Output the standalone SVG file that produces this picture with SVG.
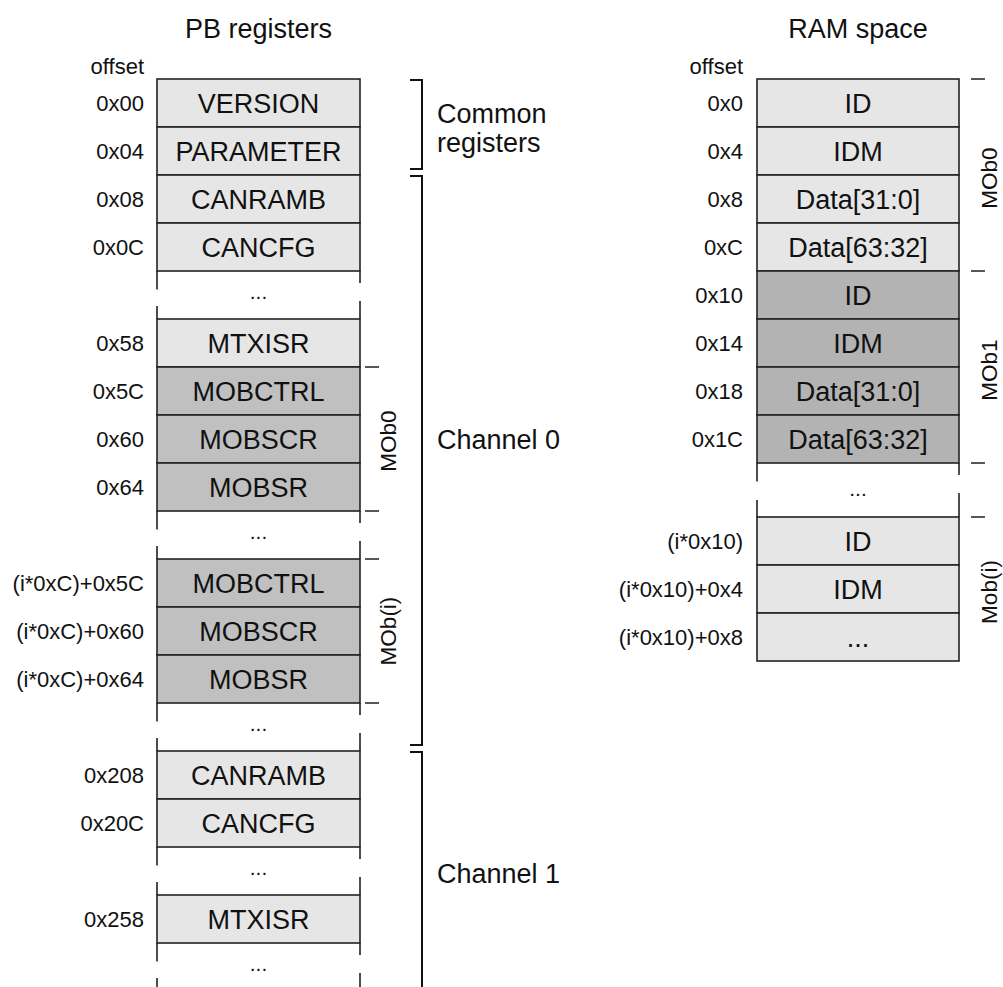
<svg xmlns="http://www.w3.org/2000/svg" width="1003" height="987" viewBox="0 0 1003 987">
<style>
text{font-family:"Liberation Sans",Arial,sans-serif;fill:#111}
.t{font-size:27px;text-anchor:middle}
.l{font-size:22px;text-anchor:end}
.m{font-size:22.5px;text-anchor:middle}
.d{font-size:21px;text-anchor:middle}
.h{font-size:27px}
.lt{fill:#e6e6e6;stroke:#222;stroke-width:1.6}
.dk{fill:#c0c0c0;stroke:#222;stroke-width:1.6}
.md{fill:#b3b3b3;stroke:#222;stroke-width:1.6}
.sl{stroke:#222;stroke-width:1.6;fill:none}
.br{stroke:#111;stroke-width:2;fill:none}
.tk{stroke:#222;stroke-width:1.5;fill:none}
</style>
<rect width="1003" height="987" fill="#fff"/>
<text class="h" x="258.5" y="38" text-anchor="middle">PB registers</text>
<text class="h" x="858" y="38" text-anchor="middle">RAM space</text>
<text class="l" x="144" y="74">offset</text>
<text class="l" x="743" y="74">offset</text>

<g id="pb-version"><rect class="lt" x="157" y="79" width="203" height="48"/><text class="t" x="258.5" y="112.5">VERSION</text><text class="l" x="144" y="111">0x00</text></g>
<g id="pb-parameter"><rect class="lt" x="157" y="127" width="203" height="48"/><text class="t" x="258.5" y="160.5">PARAMETER</text><text class="l" x="144" y="159">0x04</text></g>
<g id="pb-canramb0"><rect class="lt" x="157" y="175" width="203" height="48"/><text class="t" x="258.5" y="208.5">CANRAMB</text><text class="l" x="144" y="207">0x08</text></g>
<g id="pb-cancfg0"><rect class="lt" x="157" y="223" width="203" height="48"/><text class="t" x="258.5" y="256.5">CANCFG</text><text class="l" x="144" y="255">0x0C</text></g>
<g id="pb-mtxisr0"><rect class="lt" x="157" y="319" width="203" height="48"/><text class="t" x="258.5" y="352.5">MTXISR</text><text class="l" x="144" y="351">0x58</text></g>
<g id="pb-mobctrl0"><rect class="dk" x="157" y="367" width="203" height="48"/><text class="t" x="258.5" y="400.5">MOBCTRL</text><text class="l" x="144" y="399">0x5C</text></g>
<g id="pb-mobscr0"><rect class="dk" x="157" y="415" width="203" height="48"/><text class="t" x="258.5" y="448.5">MOBSCR</text><text class="l" x="144" y="447">0x60</text></g>
<g id="pb-mobsr0"><rect class="dk" x="157" y="463" width="203" height="48"/><text class="t" x="258.5" y="496.5">MOBSR</text><text class="l" x="144" y="495">0x64</text></g>
<g id="pb-mobctrli"><rect class="dk" x="157" y="559" width="203" height="48"/><text class="t" x="258.5" y="592.5">MOBCTRL</text><text class="l" x="144" y="591">(i*0xC)+0x5C</text></g>
<g id="pb-mobscri"><rect class="dk" x="157" y="607" width="203" height="48"/><text class="t" x="258.5" y="640.5">MOBSCR</text><text class="l" x="144" y="639">(i*0xC)+0x60</text></g>
<g id="pb-mobsri"><rect class="dk" x="157" y="655" width="203" height="48"/><text class="t" x="258.5" y="688.5">MOBSR</text><text class="l" x="144" y="687">(i*0xC)+0x64</text></g>
<g id="pb-canramb1"><rect class="lt" x="157" y="751" width="203" height="48"/><text class="t" x="258.5" y="784.5">CANRAMB</text><text class="l" x="144" y="783">0x208</text></g>
<g id="pb-cancfg1"><rect class="lt" x="157" y="799" width="203" height="48"/><text class="t" x="258.5" y="832.5">CANCFG</text><text class="l" x="144" y="831">0x20C</text></g>
<g id="pb-mtxisr1"><rect class="lt" x="157" y="895" width="203" height="48"/><text class="t" x="258.5" y="928.5">MTXISR</text><text class="l" x="144" y="927">0x258</text></g>

<g id="pb-gaps">
<path class="sl" d="M157,271V289.5M157,306V319M360,271V283M360,301V319"/>
<path class="sl" d="M157,511V529.5M157,546V559M360,511V523M360,541V559"/>
<path class="sl" d="M157,703V721.5M157,738V751M360,703V715M360,733V751"/>
<path class="sl" d="M157,847V865.5M157,882V895M360,847V859M360,877V895"/>
<path class="sl" d="M157,943V961.5M157,978V990M360,943V955M360,973V990"/>
<text class="d" x="258.5" y="299">...</text>
<text class="d" x="258.5" y="539">...</text>
<text class="d" x="258.5" y="731">...</text>
<text class="d" x="258.5" y="875">...</text>
<text class="d" x="258.5" y="971">...</text>
</g>

<g id="ram-id0"><rect class="lt" x="757" y="79" width="202" height="48"/><text class="t" x="858" y="112.5">ID</text><text class="l" x="743" y="111">0x0</text></g>
<g id="ram-idm0"><rect class="lt" x="757" y="127" width="202" height="48"/><text class="t" x="858" y="160.5">IDM</text><text class="l" x="743" y="159">0x4</text></g>
<g id="ram-data0l"><rect class="lt" x="757" y="175" width="202" height="48"/><text class="t" x="858" y="208.5">Data[31:0]</text><text class="l" x="743" y="207">0x8</text></g>
<g id="ram-data0h"><rect class="lt" x="757" y="223" width="202" height="48"/><text class="t" x="858" y="256.5">Data[63:32]</text><text class="l" x="743" y="255">0xC</text></g>
<g id="ram-id1"><rect class="md" x="757" y="271" width="202" height="48"/><text class="t" x="858" y="304.5">ID</text><text class="l" x="743" y="303">0x10</text></g>
<g id="ram-idm1"><rect class="md" x="757" y="319" width="202" height="48"/><text class="t" x="858" y="352.5">IDM</text><text class="l" x="743" y="351">0x14</text></g>
<g id="ram-data1l"><rect class="md" x="757" y="367" width="202" height="48"/><text class="t" x="858" y="400.5">Data[31:0]</text><text class="l" x="743" y="399">0x18</text></g>
<g id="ram-data1h"><rect class="md" x="757" y="415" width="202" height="48"/><text class="t" x="858" y="448.5">Data[63:32]</text><text class="l" x="743" y="447">0x1C</text></g>
<g id="ram-idi"><rect class="lt" x="757" y="517" width="202" height="48"/><text class="t" x="858" y="550.5">ID</text><text class="l" x="743" y="549">(i*0x10)</text></g>
<g id="ram-idmi"><rect class="lt" x="757" y="565" width="202" height="48"/><text class="t" x="858" y="598.5">IDM</text><text class="l" x="743" y="597">(i*0x10)+0x4</text></g>
<g id="ram-moreli"><rect class="lt" x="757" y="613" width="202" height="48"/><text class="t" x="858" y="646.5">...</text><text class="l" x="743" y="645">(i*0x10)+0x8</text></g>

<g id="ram-gap">
<path class="sl" d="M757,463V481.5M757,500V517M959,463V475M959,493V517"/>
<text class="d" x="858" y="496">...</text>
</g>

<g id="connectors">
<path class="br" d="M410,80H422V169H410"/>
<path class="br" d="M410,176H422V745H410"/>
<path class="br" d="M410,752H422V990"/>
<path class="tk" d="M365,367H379M365,511H379M365,559H379M365,703H379"/>
<path class="tk" d="M971,79H985M971,271H985M971,463H985M971,517H985"/>
</g>

<g id="lbl-common"><text class="h" x="437" y="123">Common</text><text class="h" x="437" y="152">registers</text></g>
<g id="lbl-channel0"><text class="h" x="437" y="449">Channel 0</text></g>
<g id="lbl-channel1"><text class="h" x="437" y="883">Channel 1</text></g>
<g id="lbl-mob0"><text class="m" transform="translate(396,441) rotate(-90)">MOb0</text></g>
<g id="lbl-mobi"><text class="m" transform="translate(396,631) rotate(-90)">MOb(i)</text></g>
<g id="lbl-ram-mob0"><text class="m" transform="translate(997,178) rotate(-90)">MOb0</text></g>
<g id="lbl-ram-mob1"><text class="m" transform="translate(997,370) rotate(-90)">MOb1</text></g>
<g id="lbl-ram-mobi"><text class="m" transform="translate(997,592) rotate(-90)">Mob(i)</text></g>
</svg>
